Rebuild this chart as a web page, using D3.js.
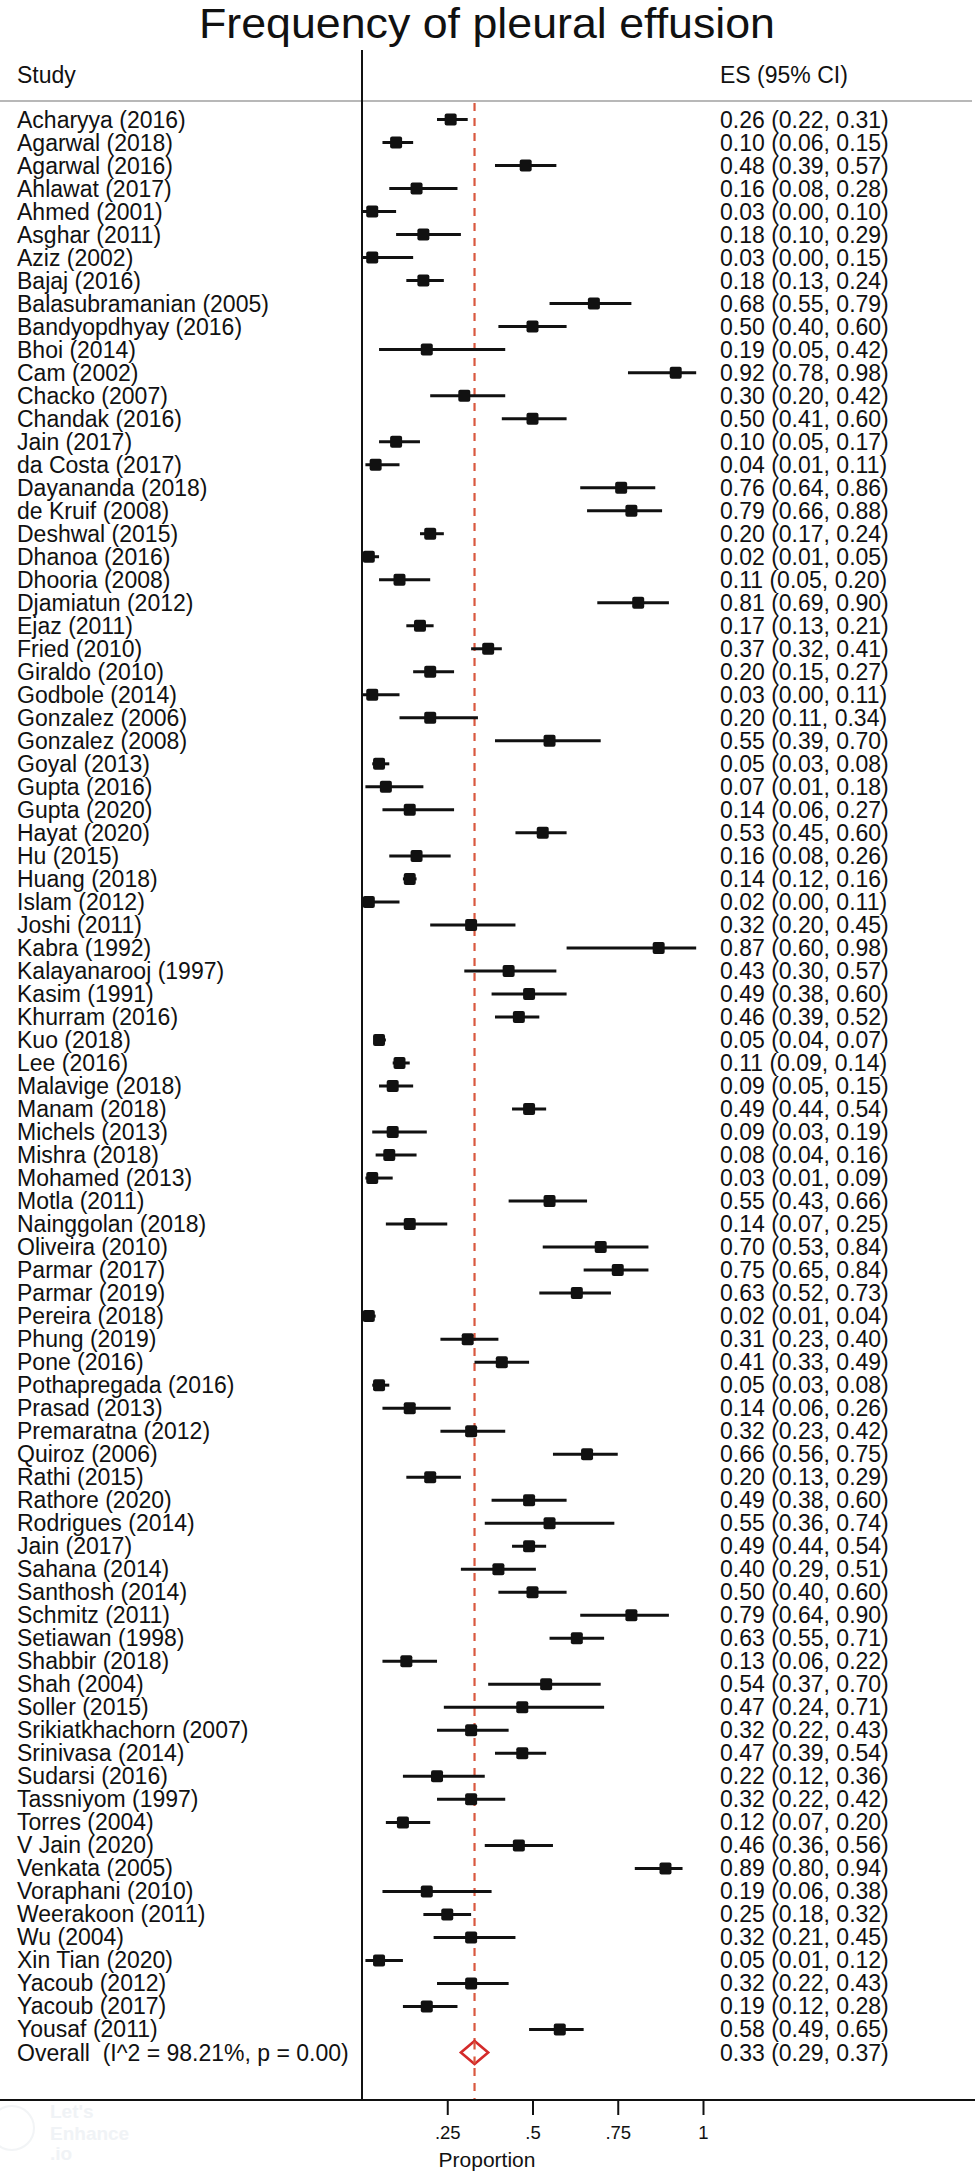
<!DOCTYPE html>
<html>
<head>
<meta charset="utf-8">
<script src="https://cdn.jsdelivr.net/npm/d3@7"></script>
<style>
  html, body { margin: 0; padding: 0; background: #fff; }
  svg { display: block; }
  text { font-family: "Liberation Sans", Arial, Helvetica, sans-serif; fill: #111; }
</style>
</head>
<body>
<svg id="chart" width="975" height="2174"></svg>
<script>
const studies = [
  "Acharyya (2016)","Agarwal (2018)","Agarwal (2016)","Ahlawat (2017)","Ahmed (2001)","Asghar (2011)",
  "Aziz (2002)","Bajaj (2016)","Balasubramanian (2005)","Bandyopdhyay (2016)","Bhoi (2014)","Cam (2002)",
  "Chacko (2007)","Chandak (2016)","Jain (2017)","da Costa (2017)","Dayananda (2018)","de Kruif (2008)",
  "Deshwal (2015)","Dhanoa (2016)","Dhooria (2008)","Djamiatun (2012)","Ejaz (2011)","Fried (2010)",
  "Giraldo (2010)","Godbole (2014)","Gonzalez (2006)","Gonzalez (2008)","Goyal (2013)","Gupta (2016)",
  "Gupta (2020)","Hayat (2020)","Hu (2015)","Huang (2018)","Islam (2012)","Joshi (2011)",
  "Kabra (1992)","Kalayanarooj (1997)","Kasim (1991)","Khurram (2016)","Kuo (2018)","Lee (2016)",
  "Malavige (2018)","Manam (2018)","Michels (2013)","Mishra (2018)","Mohamed (2013)","Motla (2011)",
  "Nainggolan (2018)","Oliveira (2010)","Parmar (2017)","Parmar (2019)","Pereira (2018)","Phung (2019)",
  "Pone (2016)","Pothapregada (2016)","Prasad (2013)","Premaratna (2012)","Quiroz (2006)","Rathi (2015)",
  "Rathore (2020)","Rodrigues (2014)","Jain (2017)","Sahana (2014)","Santhosh (2014)","Schmitz (2011)",
  "Setiawan (1998)","Shabbir (2018)","Shah (2004)","Soller (2015)","Srikiatkhachorn (2007)","Srinivasa (2014)",
  "Sudarsi (2016)","Tassniyom (1997)","Torres (2004)","V Jain (2020)","Venkata (2005)","Voraphani (2010)",
  "Weerakoon (2011)","Wu (2004)","Xin Tian (2020)","Yacoub (2012)","Yacoub (2017)","Yousaf (2011)"
];
const es = [
  0.26,0.10,0.48,0.16,0.03,0.18,0.03,0.18,0.68,0.50,0.19,0.92,
  0.30,0.50,0.10,0.04,0.76,0.79,0.20,0.02,0.11,0.81,0.17,0.37,
  0.20,0.03,0.20,0.55,0.05,0.07,0.14,0.53,0.16,0.14,0.02,0.32,
  0.87,0.43,0.49,0.46,0.05,0.11,0.09,0.49,0.09,0.08,0.03,0.55,
  0.14,0.70,0.75,0.63,0.02,0.31,0.41,0.05,0.14,0.32,0.66,0.20,
  0.49,0.55,0.49,0.40,0.50,0.79,0.63,0.13,0.54,0.47,0.32,0.47,
  0.22,0.32,0.12,0.46,0.89,0.19,0.25,0.32,0.05,0.32,0.19,0.58
];
const lo = [
  0.22,0.06,0.39,0.08,0.00,0.10,0.00,0.13,0.55,0.40,0.05,0.78,
  0.20,0.41,0.05,0.01,0.64,0.66,0.17,0.01,0.05,0.69,0.13,0.32,
  0.15,0.00,0.11,0.39,0.03,0.01,0.06,0.45,0.08,0.12,0.00,0.20,
  0.60,0.30,0.38,0.39,0.04,0.09,0.05,0.44,0.03,0.04,0.01,0.43,
  0.07,0.53,0.65,0.52,0.01,0.23,0.33,0.03,0.06,0.23,0.56,0.13,
  0.38,0.36,0.44,0.29,0.40,0.64,0.55,0.06,0.37,0.24,0.22,0.39,
  0.12,0.22,0.07,0.36,0.80,0.06,0.18,0.21,0.01,0.22,0.12,0.49
];
const hi = [
  0.31,0.15,0.57,0.28,0.10,0.29,0.15,0.24,0.79,0.60,0.42,0.98,
  0.42,0.60,0.17,0.11,0.86,0.88,0.24,0.05,0.20,0.90,0.21,0.41,
  0.27,0.11,0.34,0.70,0.08,0.18,0.27,0.60,0.26,0.16,0.11,0.45,
  0.98,0.57,0.60,0.52,0.07,0.14,0.15,0.54,0.19,0.16,0.09,0.66,
  0.25,0.84,0.84,0.73,0.04,0.40,0.49,0.08,0.26,0.42,0.75,0.29,
  0.60,0.74,0.54,0.51,0.60,0.90,0.71,0.22,0.70,0.71,0.43,0.54,
  0.36,0.42,0.20,0.56,0.94,0.38,0.32,0.45,0.12,0.43,0.28,0.65
];
const overallLabel = "Overall  (I^2 = 98.21%, p = 0.00)";
const overall = { es: 0.33, lo: 0.29, hi: 0.37 };
const xTicks = [0.25, 0.5, 0.75, 1];
const xTickLabels = [".25", ".5", ".75", "1"];

const svg = d3.select("#chart");
const W = 975;

const x = d3.scaleLinear().domain([0, 1]).range([362, 703]);
const nRows = studies.length + 1;
const y = d3.scaleLinear().domain([0, nRows - 1]).range([119.5, 2052.5]);
const fmt = d3.format(".2f");

const axisY = 2100;
const topLine = 101;
const FS = "23px";

// Title
svg.append("text")
  .attr("x", 487).attr("y", 38)
  .attr("text-anchor", "middle")
  .attr("textLength", 576)
  .attr("lengthAdjust", "spacingAndGlyphs")
  .style("font-size", "42px")
  .text("Frequency of pleural effusion");

// Header
svg.append("text").attr("x", 17).attr("y", 83).style("font-size", FS).text("Study");
svg.append("text").attr("x", 720).attr("y", 83).style("font-size", FS).text("ES (95% CI)");

// Header separator
svg.append("line")
  .attr("x1", 0).attr("x2", 972).attr("y1", topLine).attr("y2", topLine)
  .attr("stroke", "#b8b8b8").attr("stroke-width", 2);

// Null line (vertical at 0)
svg.append("line")
  .attr("x1", x(0)).attr("x2", x(0)).attr("y1", 50).attr("y2", axisY)
  .attr("stroke", "#111").attr("stroke-width", 2);

// Overall dashed line
svg.append("line")
  .attr("x1", x(overall.es)).attr("x2", x(overall.es))
  .attr("y1", topLine + 2).attr("y2", axisY)
  .attr("stroke", "#d9583f").attr("stroke-width", 2.2)
  .attr("stroke-dasharray", "8,7");

// Study rows
const rows = svg.append("g").selectAll("g.row")
  .data(studies.map((s, i) => ({ s, es: es[i], lo: lo[i], hi: hi[i], i })))
  .join("g").attr("class", "row");

rows.append("line")
  .attr("x1", d => x(d.lo)).attr("x2", d => x(d.hi))
  .attr("y1", d => y(d.i)).attr("y2", d => y(d.i))
  .attr("stroke", "#111").attr("stroke-width", 3);

const box = 12;
rows.append("rect")
  .attr("x", d => x(d.es) - box / 2).attr("y", d => y(d.i) - box / 2)
  .attr("width", box).attr("height", box)
  .attr("rx", 2)
  .attr("fill", "#111");

rows.append("text")
  .attr("x", 17).attr("y", d => y(d.i) + 8)
  .style("font-size", FS)
  .text(d => d.s);

rows.append("text")
  .attr("x", 720).attr("y", d => y(d.i) + 8)
  .style("font-size", FS)
  .text(d => `${fmt(d.es)} (${fmt(d.lo)}, ${fmt(d.hi)})`);

// Overall row
const oy = y(nRows - 1);
svg.append("text")
  .attr("x", 17).attr("y", oy + 8)
  .style("font-size", FS).style("white-space", "pre")
  .attr("xml:space", "preserve")
  .text(overallLabel);
svg.append("text")
  .attr("x", 720).attr("y", oy + 8)
  .style("font-size", FS)
  .text(`${fmt(overall.es)} (${fmt(overall.lo)}, ${fmt(overall.hi)})`);
svg.append("path")
  .attr("d", `M${x(overall.lo)},${oy} L${x(overall.es)},${oy - 11.5} L${x(overall.hi)},${oy} L${x(overall.es)},${oy + 11.5} Z`)
  .attr("fill", "#fff").attr("stroke", "#d42a2a").attr("stroke-width", 2.6);
svg.append("line")
  .attr("x1", x(overall.es)).attr("x2", x(overall.es))
  .attr("y1", oy - 11).attr("y2", oy + 11)
  .attr("stroke", "#d9583f").attr("stroke-width", 2.2)
  .attr("stroke-dasharray", "8,7");

// Bottom axis line
svg.append("line")
  .attr("x1", 0).attr("x2", W).attr("y1", axisY).attr("y2", axisY)
  .attr("stroke", "#111").attr("stroke-width", 2);

const axis = d3.axisBottom(x)
  .tickValues(xTicks)
  .tickFormat((d, i) => xTickLabels[i])
  .tickSize(15).tickPadding(11);
const ax = svg.append("g").attr("transform", `translate(0,${axisY})`).call(axis);
ax.select(".domain").remove();
ax.selectAll(".tick line").attr("stroke", "#111").attr("stroke-width", 2);
ax.selectAll(".tick text")
  .style("font-size", "18.5px")
  .style("font-family", "'Liberation Sans', Arial, sans-serif")
  .attr("fill", "#111");

svg.append("text")
  .attr("x", 487).attr("y", 2167)
  .attr("text-anchor", "middle")
  .style("font-size", "21px")
  .text("Proportion");

// Faint watermark
const wm = svg.append("g").attr("opacity", 0.5);
wm.append("circle").attr("cx", 12).attr("cy", 2128).attr("r", 22)
  .attr("fill", "none").attr("stroke", "#e6eaee").attr("stroke-width", 2);
[["Let's", 2118], ["Enhance", 2140], [".io", 2160]].forEach(([t, yy]) => {
  wm.append("text").attr("x", 50).attr("y", yy)
    .style("font-size", "19px").style("font-weight", "bold")
    .style("fill", "#e3e8ee").text(t);
});
</script>
</body>
</html>
